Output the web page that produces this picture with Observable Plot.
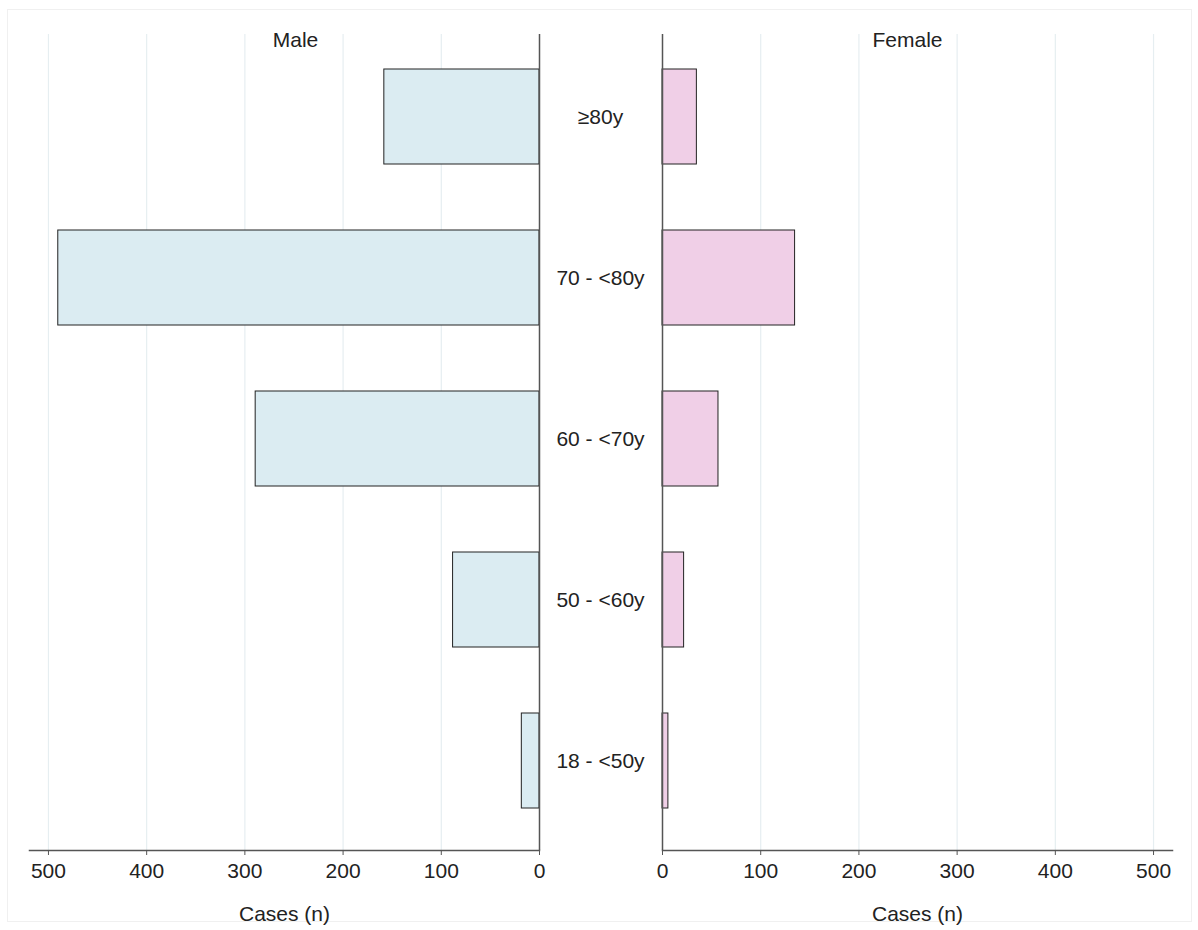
<!DOCTYPE html>
<html><head><meta charset="utf-8">
<script src="https://cdn.jsdelivr.net/npm/d3@7"></script>
<script src="https://cdn.jsdelivr.net/npm/@observablehq/plot@0.6"></script>
<style>
body{margin:0;background:#fff;}
#wrap{position:relative;width:1198px;height:930px;overflow:hidden;font-family:"Liberation Sans",Arial,sans-serif;}
#border{position:absolute;left:7px;top:9px;right:6px;bottom:8px;border:1px solid #f0f0f0;}
#left{position:absolute;left:0;top:0;}
#right{position:absolute;left:540px;top:0;}
</style></head><body>
<div id="wrap"><div id="border"></div><div id="left"></div><div id="right"></div></div>
<script>
const ageGroups = ["≥80y", "70 - <80y", "60 - <70y", "50 - <60y", "18 - <50y"];
const maleCases = [158, 490, 289, 88, 18];
const femaleCases = [35, 135, 57, 22, 6];
const xTicks = [0, 100, 200, 300, 400, 500];
const panelTitles = ["Male", "Female"];
const axisTitle = "Cases (n)";

const xMax = 519.3;
const male = ageGroups.map((g, i) => ({age: g, cases: maleCases[i]}));
const female = ageGroups.map((g, i) => ({age: g, cases: femaleCases[i]}));

const font = '"Liberation Sans", Arial, sans-serif';
const fs = 21;
const yScale = {domain: ageGroups, range: [36.5, 841.5], paddingInner: 0.407, paddingOuter: 0.2035};
const gridColor = "#e6eef1";
const axisColor = "#555";

const leftPlot = Plot.plot({
  width: 560, height: 930,
  marginLeft: 29, marginRight: 21, marginTop: 34, marginBottom: 80,
  style: {fontFamily: font, fontSize: fs + "px", color: "#222", background: "transparent"},
  x: {domain: [xMax, 0]},
  y: {...yScale, axis: null},
  marks: [
    Plot.ruleX(xTicks.filter(d => d > 0), {stroke: gridColor, strokeWidth: 1.2}),
    Plot.barX(male, {x: "cases", y: "age", fill: "#dbecf2", stroke: "#222", strokeWidth: 1}),
    Plot.ruleX([0], {stroke: axisColor, strokeWidth: 1.5}),
    Plot.frame({anchor: "bottom", stroke: axisColor, strokeWidth: 1.5}),
    Plot.axisX({ticks: xTicks, tickSize: 5, tickPadding: 8, fontSize: fs, label: null, stroke: axisColor}),
    Plot.text([panelTitles[0]], {text: d => d, frameAnchor: "top", dx: 11, dy: 6, lineAnchor: "middle", fontSize: fs, fill: "#222"}),
    Plot.text([axisTitle], {text: d => d, frameAnchor: "bottom", dy: 64, lineAnchor: "middle", fontSize: fs, fill: "#222"})
  ]
});
document.getElementById("left").appendChild(leftPlot);

const rightPlot = Plot.plot({
  width: 658, height: 930,
  marginLeft: 122, marginRight: 26, marginTop: 34, marginBottom: 80,
  style: {fontFamily: font, fontSize: fs + "px", color: "#222", background: "transparent"},
  x: {domain: [0, xMax]},
  y: {...yScale},
  marks: [
    Plot.ruleX(xTicks.filter(d => d > 0), {stroke: gridColor, strokeWidth: 1.2}),
    Plot.barX(female, {x: "cases", y: "age", fill: "#f0cfe7", stroke: "#222", strokeWidth: 1}),
    Plot.ruleX([0], {stroke: axisColor, strokeWidth: 1.5}),
    Plot.frame({anchor: "bottom", stroke: axisColor, strokeWidth: 1.5}),
    Plot.axisX({ticks: xTicks, tickSize: 5, tickPadding: 8, fontSize: fs, label: null, stroke: axisColor}),
    Plot.axisY({tickSize: 0, tickPadding: 62, textAnchor: "middle", fontSize: fs, label: null}),
    Plot.text([panelTitles[1]], {text: d => d, frameAnchor: "top", dx: -10, dy: 6, lineAnchor: "middle", fontSize: fs, fill: "#222"}),
    Plot.text([axisTitle], {text: d => d, frameAnchor: "bottom", dy: 64, lineAnchor: "middle", fontSize: fs, fill: "#222"})
  ]
});
document.getElementById("right").appendChild(rightPlot);
</script>
</body></html>
